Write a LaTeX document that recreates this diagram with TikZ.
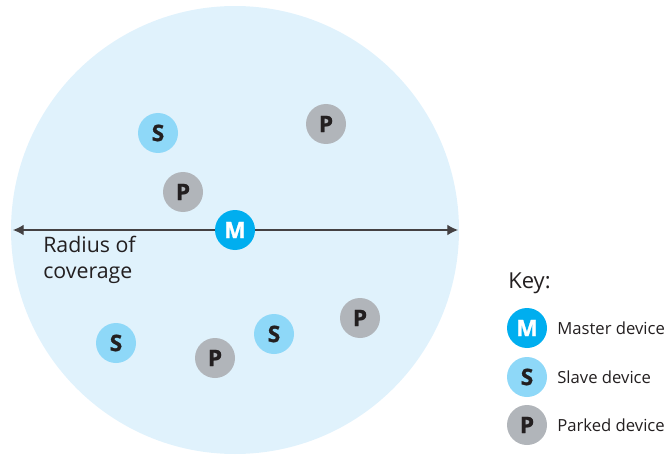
\documentclass[tikz,border=0pt]{standalone}
\usepackage{fontspec}
\setmainfont{Open Sans}
\newfontfamily\devfont{Open Sans}[BoldFeatures={FakeBold=1.2}]
\usetikzlibrary{arrows.meta}
\definecolor{coverage}{HTML}{E0F2FC}
\definecolor{mastercol}{HTML}{00AEEF}
\definecolor{slavecol}{HTML}{8ED8F8}
\definecolor{parkedcol}{HTML}{B1B5BA}
\definecolor{ink}{HTML}{231F20}
\tikzset{
  dev/.style={circle,minimum size=30pt,inner sep=0pt,text=ink,font=\devfont\bfseries\fontsize{17}{17}\selectfont},
  master/.style={dev,fill=mastercol,text=white},
  slave/.style={dev,fill=slavecol},
  parked/.style={dev,fill=parkedcol},
  keytext/.style={anchor=west,inner sep=0pt,text=ink,font=\fontsize{12.5}{14}\selectfont}
}
\begin{document}
\begin{tikzpicture}[x=0.75pt,y=-0.75pt]
\useasboundingbox (0,0) rectangle (667,456);
\begin{scope}
\clip (0,0) rectangle (667,456);
\fill[coverage] (235,230) circle (168pt);
\end{scope}
% radius arrow
\coordinate (rimL) at (13,230);
\coordinate (rimR) at (458,230);
\draw[ink!85,line width=0.9pt,{Latex[length=8pt,width=8pt]}-{Latex[length=8pt,width=8pt]}] (rimL)--(rimR);
\node[anchor=north west,align=left,inner sep=0pt,text=ink,font=\fontsize{16}{19.5}\selectfont] (radius) at (43,236) {Radius of\\coverage};
% devices
\node[master] (M) at (235,230) {M};
\node[slave] (s1) at (158,133) {S};
\node[slave] (s2) at (116,343) {S};
\node[slave] (s3) at (274,334) {S};
\node[parked] (p1) at (326,124) {P};
\node[parked] (p2) at (183,192) {P};
\node[parked] (p3) at (215,358) {P};
\node[parked] (p4) at (360,318) {P};
% key
\node[anchor=west,inner sep=0pt,text=ink,font=\fontsize{16.5}{18}\selectfont] (key) at (508,283) {Key:};
\node[master] (kM) at (527,328) {M};
\node[slave] (kS) at (527,377) {S};
\node[parked] (kP) at (527,425) {P};
\node[keytext] at (557,328) {Master device};
\node[keytext] at (557,377) {Slave device};
\node[keytext] at (557,425) {Parked device};
\end{tikzpicture}
\end{document}
